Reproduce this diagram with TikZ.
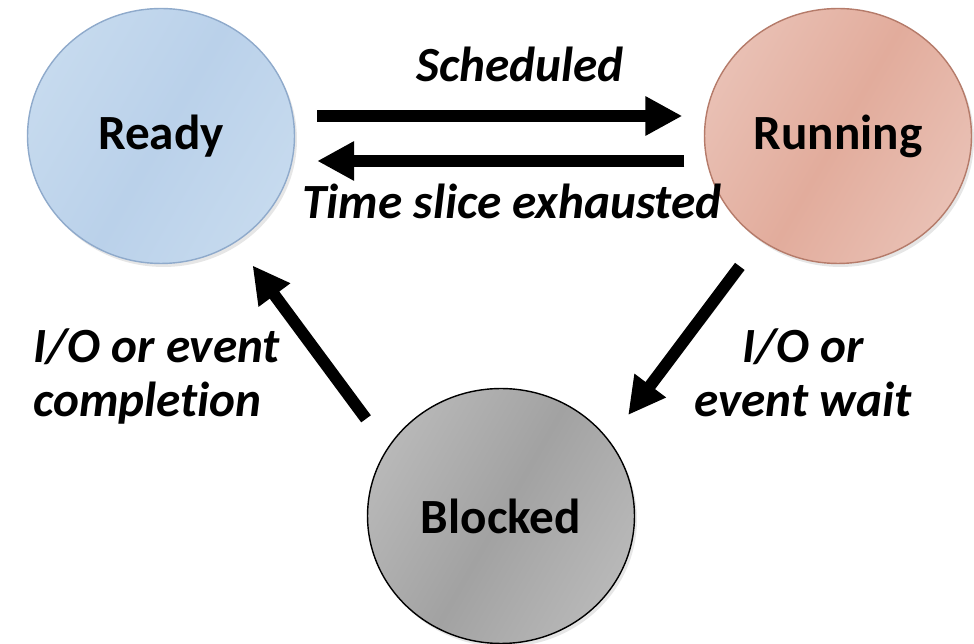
\documentclass[tikz,border=0pt]{standalone}
\usepackage{fontspec}
\setmainfont{Carlito}[Ligatures=NoCommon]
\usetikzlibrary{arrows.meta, shapes.geometric, shadows}

\definecolor{readyfill}{HTML}{BAD1EA}
\definecolor{readylight}{HTML}{C6DAEE}
\definecolor{readyline}{HTML}{8FAACB}
\definecolor{runfill}{HTML}{E2AC9C}
\definecolor{runlight}{HTML}{E9C0B4}
\definecolor{runline}{HTML}{B57B6A}
\definecolor{blockfill}{HTML}{A2A2A2}
\definecolor{blocklight}{HTML}{B8B8B8}

\tikzset{
  state/.style={ellipse, minimum width=5.34cm, minimum height=5.1cm, inner sep=0pt, line width=0.8pt,
    font=\fontsize{28}{32}\selectfont\bfseries,
    drop shadow={shadow xshift=0.05cm, shadow yshift=-0.07cm, opacity=0.2}},
  lbl/.style={inner sep=0pt, font=\fontsize{28}{31}\selectfont\bfseries\itshape},
  flow/.style={->, line width=6.8pt},
}

\begin{document}
\begin{tikzpicture}[x=0.02cm, y=-0.02cm, >={Triangle[length=21pt, width=21pt]}]
\useasboundingbox (0,0) rectangle (974,644);

\node[state, draw=readyline, left color=readylight, right color=readylight, middle color=readyfill, shading angle=60] (ready) at (161,136) {Ready};
\node[state, draw=runline, left color=runlight, right color=runlight, middle color=runfill, shading angle=60] (running) at (838,136) {Running};
\node[state, draw=black, left color=blocklight, right color=blocklight, middle color=blockfill, shading angle=60] (blocked) at (501,516) {Blocked};

\node[lbl, anchor=base] (sched) at (520,82) {Scheduled};
\node[lbl, anchor=base] (slice) at (512,219) {Time slice exhausted};
\node[lbl, align=left, anchor=north west] (done) at (33,328) {I/O or event\\completion};
\node[lbl, align=center, anchor=north] (wait) at (803,328) {I/O or\\event wait};

\draw[flow, shorten <=0.44cm, shorten >=0.43cm] ([yshift=0.4cm]ready.east) -- ([yshift=0.4cm]running.west);
\draw[flow, shorten <=0.39cm, shorten >=0.44cm] ([yshift=-0.5cm]running.west) -- ([yshift=-0.5cm]ready.east);
\draw[flow, shorten <=0.66cm, shorten >=0.63cm] (running.233) -- (blocked.35);
\draw[flow, shorten <=0.72cm, shorten >=0.57cm] (blocked.149) -- (ready.305);

\end{tikzpicture}
\end{document}
